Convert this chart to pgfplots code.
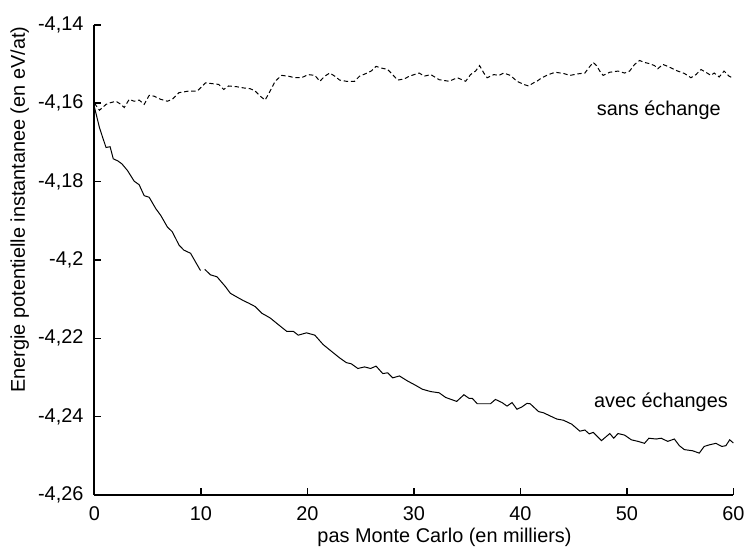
\documentclass[border=0pt]{standalone}
\usepackage{pgfplots}
\pgfplotsset{compat=1.18}
\usepackage{fontspec}
\setmainfont{Liberation Sans}
\begin{document}
\fontsize{10}{12}\selectfont
\begin{tikzpicture}
\begin{axis}[
  scale only axis,
  width=321.35pt, height=236.5pt,
  xmin=0, xmax=60, ymin=-4.26, ymax=-4.14,
  axis lines=left,
  axis line style={line width=1pt,-},
  tick align=inside,
  major tick length=3.5pt,
  every tick/.style={line width=0.8pt,black},
  xtick={0,10,20,30,40,50,60},
  ytick={-4.26,-4.24,-4.22,-4.2,-4.18,-4.16,-4.14},
  minor tick num=0,
  /pgf/number format/assume math mode=true,
  /pgf/number format/use comma,
  /pgf/number format/fixed,
  /pgf/number format/precision=2,
  tick label style={font=\fontsize{10}{12}\selectfont},
  yticklabel style={xshift=-2pt},
  xticklabel style={yshift=-2.5pt},
  xlabel={pas Monte Carlo (en milliers)},
  ylabel={Energie potentielle instantanee (en eV/at)},
  label style={font=\fontsize{10}{12}\selectfont},
  xlabel style={at={(axis description cs:0.548,-0.089)}, anchor=center},
  ylabel style={at={(axis description cs:-0.117,0.607)}, anchor=center, rotate=0},
  clip=false,
]
% sans echange (dashed)
\addplot[black, line width=0.5pt, dash pattern=on 2.2pt off 1.4pt] coordinates {
(0,-4.1600) (0.47,-4.1618) (1.09,-4.1603) (1.47,-4.1599) (2.02,-4.1595) (2.49,-4.1603)
(2.80,-4.1611) (3.27,-4.1590) (3.73,-4.1595) (4.2,-4.1592) (4.67,-4.1603) (5.14,-4.1580)
(5.60,-4.1582) (6.22,-4.1590) (6.85,-4.1595) (7.31,-4.1590) (7.94,-4.1573) (8.87,-4.1569)
(9.65,-4.1569) (9.96,-4.1561) (10.43,-4.1548) (11.05,-4.1550) (11.67,-4.1552) (12.14,-4.1565)
(12.6,-4.1556) (13.38,-4.1558) (14.0,-4.1561) (14.63,-4.1563) (15.1,-4.1569) (15.57,-4.1582)
(16.03,-4.1592) (16.5,-4.1569) (16.97,-4.1544) (17.58,-4.1529) (18.2,-4.1531) (18.83,-4.1535)
(19.45,-4.1535) (20.07,-4.1527) (20.7,-4.1529) (21.17,-4.1544) (21.63,-4.1531) (22.1,-4.1523)
(22.57,-4.1531) (23.03,-4.1541) (23.65,-4.1544) (24.43,-4.1544) (24.9,-4.1531) (25.52,-4.1524)
(25.99,-4.1518) (26.45,-4.1506) (26.92,-4.1510) (27.54,-4.1514) (28.0,-4.1527) (28.48,-4.1541)
(29.1,-4.1538) (29.57,-4.1531) (30.03,-4.1527) (30.5,-4.1523) (30.97,-4.1531) (31.59,-4.1527)
(32.37,-4.1540) (33.3,-4.1544) (34.08,-4.1535) (34.86,-4.1544) (35.32,-4.1527) (35.79,-4.1518)
(36.17,-4.1504) (36.57,-4.1523) (36.88,-4.1535) (37.51,-4.1527) (37.98,-4.1529) (38.44,-4.1523)
(39.06,-4.1529) (39.68,-4.1544) (40.31,-4.1552) (40.77,-4.1556) (41.24,-4.1548) (41.55,-4.1544)
(42.02,-4.1535) (42.64,-4.1527) (43.26,-4.1521) (44.04,-4.1524) (44.66,-4.1529) (45.44,-4.1525)
(46.06,-4.1523) (46.53,-4.1506) (46.84,-4.1496) (47.15,-4.1504) (47.46,-4.1518) (47.77,-4.1529)
(48.4,-4.1521) (49.17,-4.1518) (49.79,-4.1523) (50.26,-4.1518) (50.73,-4.1501) (51.2,-4.1491)
(51.66,-4.1496) (52.13,-4.1499) (52.6,-4.1504) (52.91,-4.1512) (53.38,-4.1501) (53.84,-4.1506)
(54.31,-4.1512) (54.78,-4.1518) (55.4,-4.1524) (56.02,-4.1535) (56.49,-4.1527) (56.96,-4.1514)
(57.42,-4.1521) (57.89,-4.1529) (58.2,-4.1523) (58.67,-4.1533) (59.13,-4.1518) (59.6,-4.1531)
(59.91,-4.1535)
};
% avec echanges (solid), part 1
\addplot[black, line width=0.5pt] coordinates {
(0,-4.1610) (0.47,-4.1662) (0.78,-4.1688) (1.09,-4.1713) (1.47,-4.1711) (1.77,-4.1742)
(2.18,-4.1747) (2.59,-4.1755) (3.11,-4.1772) (3.73,-4.1799) (4.2,-4.1808) (4.67,-4.1836)
(5.14,-4.1840) (5.76,-4.1869) (6.22,-4.1886) (6.85,-4.1916) (7.31,-4.1928) (7.94,-4.1962)
(8.4,-4.1975) (9.03,-4.1983) (9.49,-4.2005) (9.96,-4.2027)
};
% avec echanges (solid), part 2
\addplot[black, line width=0.5pt] coordinates {
(10.36,-4.2024) (10.9,-4.2038) (11.51,-4.2043) (12.3,-4.2068) (12.76,-4.2085) (13.4,-4.2095)
(14.0,-4.2104) (14.47,-4.2110) (15.1,-4.2119) (15.72,-4.2136) (16.5,-4.2148) (17.27,-4.2165)
(18.05,-4.2182) (18.67,-4.2182) (19.14,-4.2192) (19.92,-4.2186) (20.7,-4.2192) (21.48,-4.2216)
(22.25,-4.2233) (23.03,-4.2250) (23.65,-4.2262) (24.12,-4.2265) (24.74,-4.2277) (25.37,-4.2273)
(25.93,-4.2277) (26.45,-4.2271) (27.08,-4.2290) (27.54,-4.2288) (28.01,-4.2301) (28.64,-4.2296)
(29.41,-4.2309) (30.03,-4.2318) (30.81,-4.2330) (31.59,-4.2336) (32.37,-4.2339) (32.99,-4.2351)
(34.02,-4.2361) (34.7,-4.2344) (35.17,-4.2353) (35.48,-4.2353) (35.95,-4.2367) (37.19,-4.2367)
(37.66,-4.2356) (38.28,-4.2364) (38.75,-4.2373) (39.22,-4.2364) (39.68,-4.2381) (40.15,-4.2375)
(40.62,-4.2366) (40.92,-4.2367) (41.71,-4.2387) (42.17,-4.2390) (42.79,-4.2398) (43.42,-4.2406)
(44.04,-4.2409) (44.82,-4.2419) (45.59,-4.2437) (46.06,-4.2434) (46.47,-4.2444) (46.84,-4.2440)
(47.62,-4.2461) (48.4,-4.2443) (48.77,-4.2455) (49.17,-4.2443) (49.79,-4.2447) (50.42,-4.2459)
(51.05,-4.2463) (51.66,-4.2468) (52.07,-4.2455) (52.75,-4.2457) (53.22,-4.2455) (53.84,-4.2463)
(54.46,-4.2457) (54.93,-4.2474) (55.4,-4.2484) (56.18,-4.2487) (56.8,-4.2493) (57.26,-4.2476)
(57.73,-4.2472) (58.36,-4.2468) (58.92,-4.2476) (59.3,-4.2474) (59.66,-4.2459) (60.0,-4.2467)
};
\node[font=\fontsize{10}{12}\selectfont] at (axis cs:53.0,-4.1618) {sans échange};
\node[font=\fontsize{10}{12}\selectfont] at (axis cs:53.2,-4.2364) {avec échanges};
\path (rel axis cs:0,0) ++(-47.5pt,-25.5pt) coordinate (bbSW);
\path (rel axis cs:1,1) ++(6.65pt,12.5pt) coordinate (bbNE);
\end{axis}
\path (bbSW) (bbNE);
\end{tikzpicture}
\end{document}
